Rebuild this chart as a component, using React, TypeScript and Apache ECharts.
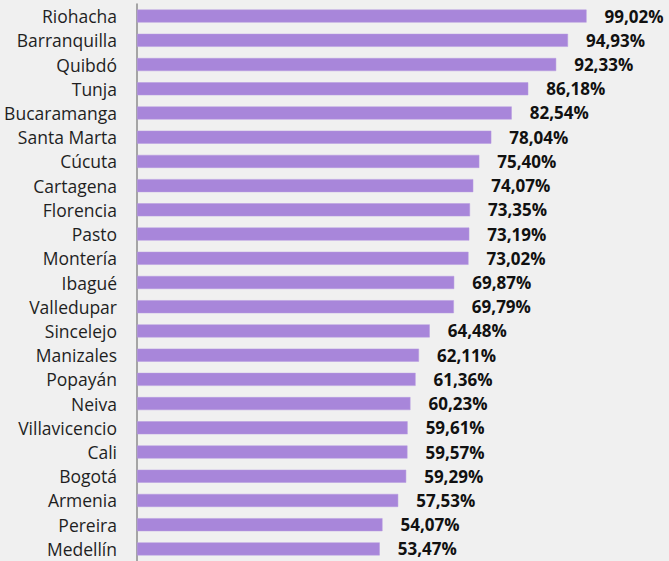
import React, { useEffect, useRef } from "react";
import * as echarts from "echarts";

const cities = [
  "Riohacha", "Barranquilla", "Quibdó", "Tunja", "Bucaramanga", "Santa Marta",
  "Cúcuta", "Cartagena", "Florencia", "Pasto", "Montería", "Ibagué",
  "Valledupar", "Sincelejo", "Manizales", "Popayán", "Neiva", "Villavicencio",
  "Cali", "Bogotá", "Armenia", "Pereira", "Medellín",
];
const values = [
  99.02, 94.93, 92.33, 86.18, 82.54, 78.04, 75.4, 74.07, 73.35, 73.19, 73.02,
  69.87, 69.79, 64.48, 62.11, 61.36, 60.23, 59.61, 59.57, 59.29, 57.53, 54.07, 53.47,
];

export default function App() {
  const ref = useRef<HTMLDivElement>(null);
  useEffect(() => {
    if (!ref.current) return;
    const chart = echarts.init(ref.current, null, { renderer: "svg" });
    chart.setOption({
      animation: false,
      backgroundColor: "#f0f0f0",
      grid: { left: 137, top: 4, width: 454, height: 559 },
      xAxis: { type: "value", min: 0, max: 100, show: false },
      yAxis: {
        type: "category",
        inverse: true,
        data: cities,
        axisLine: { show: true, lineStyle: { color: "#8c8c8c", width: 1.5 } },
        axisTick: { show: false },
        axisLabel: {
          margin: 20,
          fontSize: 17.5,
          color: "#1f1f1f",
          fontFamily: "Open Sans",
        },
      },
      series: [
        {
          type: "bar",
          data: values,
          barWidth: 13,
          itemStyle: { color: "#a886da", borderColor: "#b69ae0", borderWidth: 0.5 },
          label: {
            show: true,
            position: "right",
            distance: 18,
            fontSize: 17,
            fontWeight: "bold",
            color: "#111",
            fontFamily: "Open Sans",
            formatter: (p: any) => p.value.toFixed(2).replace(".", ",") + "%",
          },
        },
      ],
    });
    return () => chart.dispose();
  }, []);
  return <div ref={ref} style={{ width: 669, height: 561, position: "absolute", left: 0, top: 0 }} />;
}
